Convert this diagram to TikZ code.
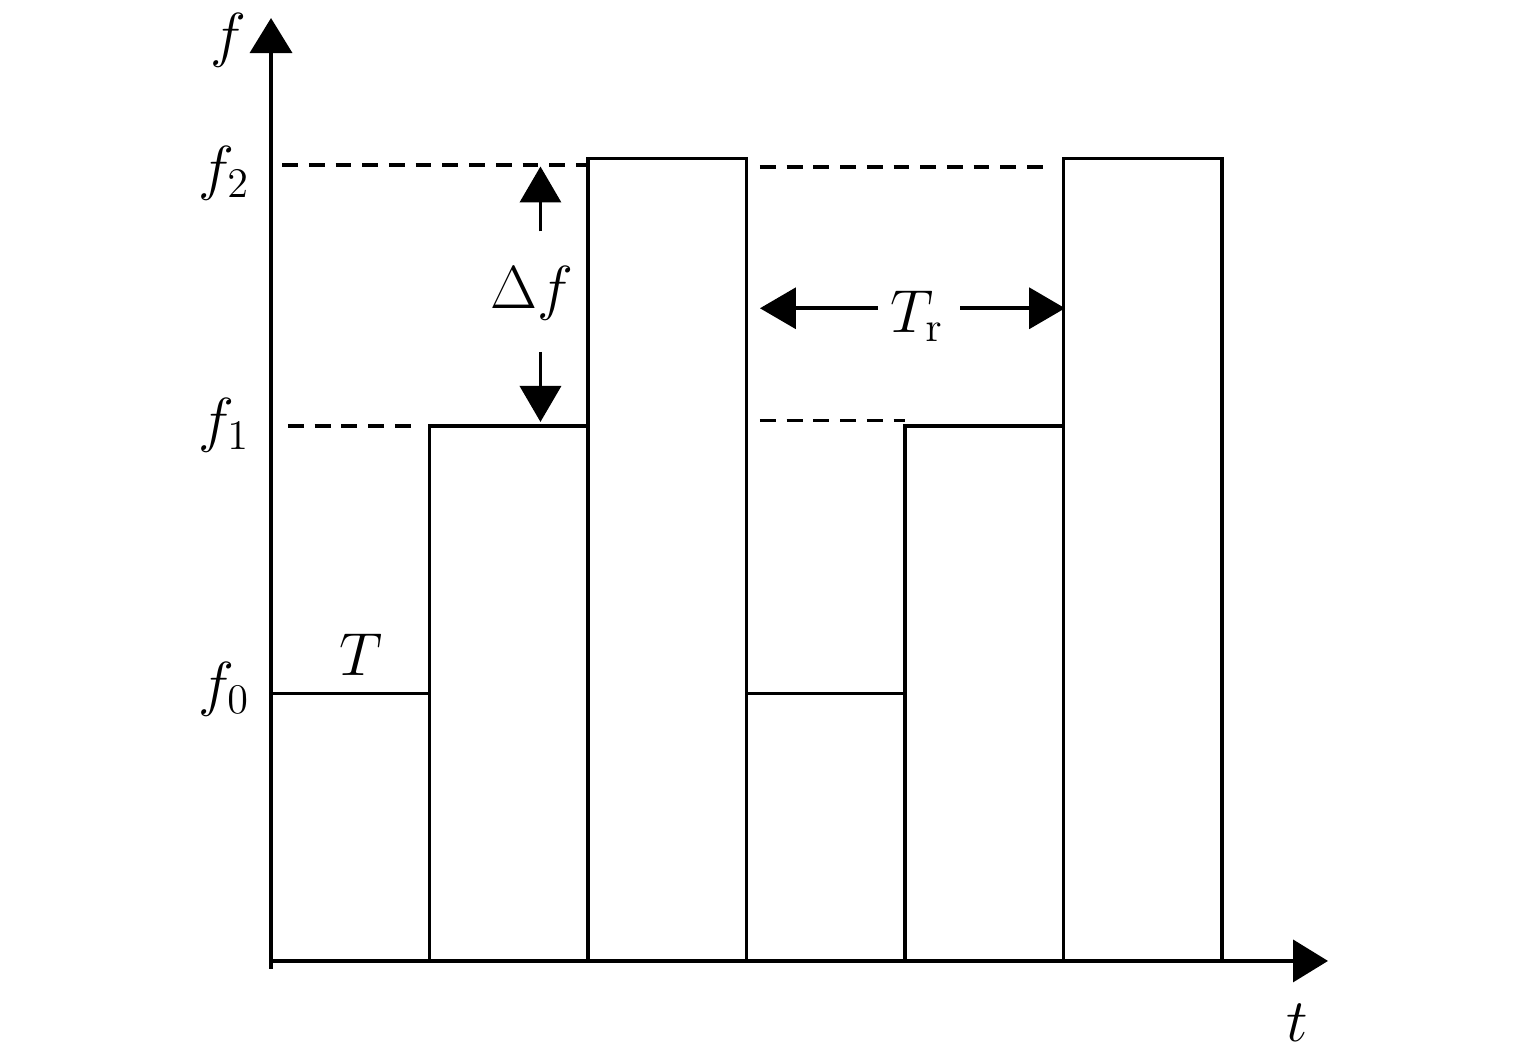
\documentclass[tikz,border=0pt]{standalone}
\usepackage{amsmath}
\usepackage{amssymb}
\usetikzlibrary{arrows.meta}

\tikzset{
  bigtip/.style={-{Triangle[length=0.36cm,width=0.41cm]}},
  axistip/.style={-{Triangle[length=0.35cm,width=0.42cm]}},
  levelline/.style={dash pattern=on 4.5pt off 3.1pt},
}

\begin{document}
\begin{tikzpicture}[x=1.585cm,y=2.675cm,line width=1.05pt,font=\fontsize{18.5}{22}\selectfont]
\useasboundingbox (-1.710,-0.3626) rectangle (7.975,3.5925);

% axes
\coordinate (O) at (0,0);
\coordinate (ftip) at (0,3.525);
\coordinate (ttip) at (6.669,0);
\draw[axistip] (0,-0.03) -- (ftip);
\draw[axistip] (O) -- (ttip);
\node (flab) at (-0.271,3.443) {$f$};
\node (tlab) at (6.473,-0.232) {$t$};

% frequency levels
\node (f0) at (-0.297,1.017) {$f_0$};
\node (f1) at (-0.297,2.004) {$f_1$};
\node (f2) at (-0.297,2.946) {$f_2$};

% steps
\draw (0,1) -- (1,1);
\draw (1,0) -- (1,2) -- (2,2) -- (2,0);
\draw (2,0) -- (2,3) -- (3,3) -- (3,0);
\draw (3,1) -- (4,1);
\draw (4,0) -- (4,2) -- (5,2) -- (5,0);
\draw (5,0) -- (5,3) -- (6,3) -- (6,0);
\node (T) at (0.568,1.144) {$T$};

% dashed levels
\draw[levelline] (0.07,2.976) -- (2,2.976);
\draw[levelline] (3.085,2.968) -- (4.90,2.968);
\draw[levelline] (0.107,2) -- (0.89,2);
\draw[levelline] (3.085,2.02) -- (4,2.02);

% delta f
\node (df) at (1.647,2.497) {$\Delta f$};
\coordinate (df up) at (1.70,2.727);
\coordinate (df top) at (1.70,2.97);
\coordinate (df down) at (1.70,2.277);
\coordinate (df bot) at (1.70,2.015);
\draw[bigtip] (df up) -- (df top);
\draw[bigtip] (df down) -- (df bot);

% repetition period
\node (Tr) at (4.076,2.411) {$T_{\mathrm{r}}$};
\coordinate (Tr l) at (3.83,2.44);
\coordinate (Tr lend) at (3.085,2.44);
\coordinate (Tr r) at (4.35,2.44);
\coordinate (Tr rend) at (5.01,2.44);
\draw[bigtip] (Tr l) -- (Tr lend);
\draw[bigtip] (Tr r) -- (Tr rend);
\end{tikzpicture}
\end{document}
